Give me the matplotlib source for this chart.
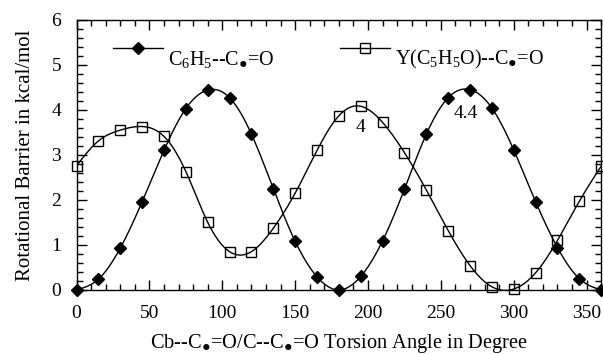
import numpy as np
import matplotlib

matplotlib.use("Agg")
import matplotlib.pyplot as plt
from matplotlib.ticker import MultipleLocator

plt.rcParams["font.family"] = ["Liberation Serif", "DejaVu Serif"]
plt.rcParams["mathtext.fontset"] = "custom"
plt.rcParams["mathtext.rm"] = "Liberation Serif"
plt.rcParams["mathtext.it"] = "Liberation Serif:italic"

# torsion angles (degrees)
angles = [0, 15, 30, 45, 60, 75, 90, 105, 120, 135, 150, 165, 180,
          195, 210, 225, 240, 255, 270, 285, 300, 315, 330, 345, 360]

# C6H5--C.=O rotational barrier (kcal/mol)
phenyl = [0.0, 0.24, 0.93, 1.96, 3.10, 4.03, 4.44, 4.27, 3.46, 2.25, 1.08, 0.29, 0.0,
          0.30, 1.09, 2.24, 3.46, 4.27, 4.45, 4.04, 3.11, 1.96, 0.94, 0.25, 0.0]

# Y(C5H5O)--C.=O rotational barrier (kcal/mol)
pyranyl = [2.76, 3.31, 3.55, 3.63, 3.41, 2.63, 1.50, 0.85, 0.85, 1.37, 2.15, 3.10, 3.87,
           4.08, 3.72, 3.05, 2.22, 1.32, 0.54, 0.07, 0.02, 0.38, 1.10, 1.97, 2.75]

labels = ["C$_6$H$_5$--C$_{●}$=O", "Y(C$_5$H$_5$O)--C$_{●}$=O"]
xlabel = "Cb--C$_{●}$=O/C--C$_{●}$=O Torsion Angle in Degree"


def spline(x, y, n=600):
    """Natural cubic spline through the points, for a smooth drawn curve."""
    x = np.asarray(x, float)
    y = np.asarray(y, float)
    k = len(x)
    h = np.diff(x)
    A = np.zeros((k, k))
    b = np.zeros(k)
    A[0, 0] = A[-1, -1] = 1
    for i in range(1, k - 1):
        A[i, i - 1] = h[i - 1]
        A[i, i] = 2 * (h[i - 1] + h[i])
        A[i, i + 1] = h[i]
        b[i] = 6 * ((y[i + 1] - y[i]) / h[i] - (y[i] - y[i - 1]) / h[i - 1])
    m = np.linalg.solve(A, b)
    xs = np.linspace(x[0], x[-1], n)
    idx = np.clip(np.searchsorted(x, xs) - 1, 0, k - 2)
    x0, x1 = x[idx], x[idx + 1]
    hh = x1 - x0
    t0, t1 = x1 - xs, xs - x0
    ys = (m[idx] * t0 ** 3 / (6 * hh) + m[idx + 1] * t1 ** 3 / (6 * hh)
          + (y[idx] / hh - m[idx] * hh / 6) * t0
          + (y[idx + 1] / hh - m[idx + 1] * hh / 6) * t1)
    return xs, ys


fig = plt.figure(figsize=(6.03, 3.54), dpi=100)
ax = fig.add_axes([0.127, 0.181, 0.870, 0.763])

styles = [("D", "black", 6), ("s", "none", 7)]
for data, (marker, mfc, ms) in zip([phenyl, pyranyl], styles):
    xs, ys = spline(angles, data)
    ax.plot(xs, ys, color="black", lw=1.0)
    ax.plot(angles, data, ls="none", marker=marker, mfc=mfc, mec="black",
            ms=ms, mew=1.0, clip_on=False, zorder=3)

# hand-placed legend (text sits lower than the handle, as in the original)
for x0, label, (marker, mfc, ms) in zip([0.0696, 0.5024], labels, styles):
    ax.plot([x0, x0 + 0.0953], [0.896, 0.896], color="black", lw=1.0,
            transform=ax.transAxes)
    ax.plot([x0 + 0.0477], [0.896], marker=marker, mfc=mfc, mec="black", ms=ms,
            mew=1.0, transform=ax.transAxes)
    ax.text(x0 + 0.105, 0.833, label, fontsize=14.5, ha="left", va="baseline",
            transform=ax.transAxes)

ax.text(195, 3.6, "4", fontsize=14, ha="center", va="center")
ax.text(267, 3.93, "4.4", fontsize=14, ha="center", va="center")

ax.set_xlim(0, 360)
ax.set_ylim(0, 6)
ax.xaxis.set_major_locator(MultipleLocator(50))
ax.xaxis.set_minor_locator(MultipleLocator(10))
ax.yaxis.set_major_locator(MultipleLocator(1))
ax.yaxis.set_minor_locator(MultipleLocator(0.2))
ax.tick_params(which="both", direction="in", top=True, right=True, labelsize=14, width=1.0)
ax.tick_params(which="major", length=7)
ax.tick_params(which="minor", length=4)
ax.tick_params(axis="x", which="major", pad=11)
ax.tick_params(axis="y", which="major", pad=11)
for s in ax.spines.values():
    s.set_linewidth(1.0)

ax.set_xlabel(xlabel, fontsize=14.7, labelpad=7)
ax.set_ylabel("Rotational Barrier in kcal/mol", fontsize=15, labelpad=12)

fig.savefig("out.png", dpi=100)
plt.close(fig)
